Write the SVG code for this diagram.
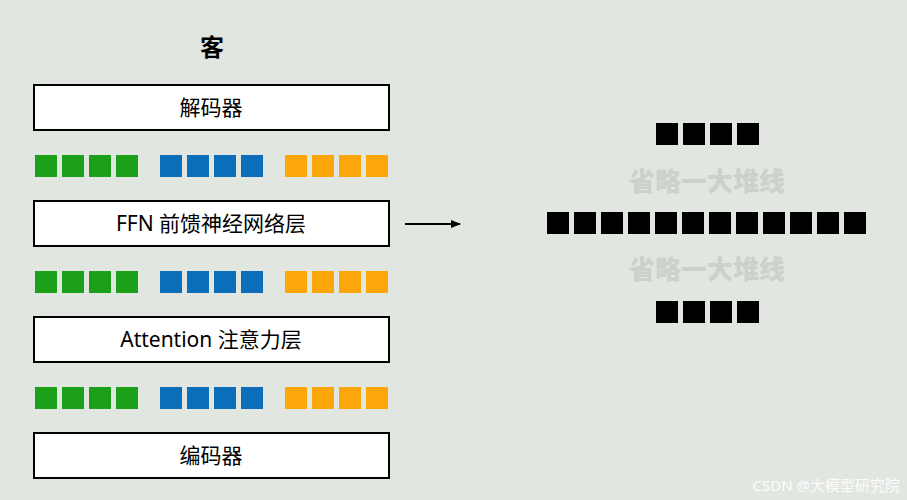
<svg xmlns="http://www.w3.org/2000/svg" width="907" height="500" viewBox="0 0 907 500">
<defs>
<style>
.box{fill:#fff;stroke:#000;stroke-width:2}
.lbl{font-family:"Noto Sans","Noto Sans CJK SC",sans-serif;font-size:21px;fill:#000;text-anchor:middle;dominant-baseline:central}
.g{fill:#1ca01c}.b{fill:#0a6fb8}.o{fill:#fda60c}.k{fill:#000}
.gray{font-family:"Noto Sans CJK SC",sans-serif;font-weight:900;font-size:26px;fill:#cdd1cc;text-anchor:middle;dominant-baseline:central}
</style>
<g id="sq"><rect width="22" height="22"/></g>
<marker id="ah" markerWidth="10" markerHeight="8" refX="9" refY="4" orient="auto" markerUnits="userSpaceOnUse"><path d="M0,0L10,4L0,8z" fill="#000"/></marker>
</defs>
<rect width="907" height="500" fill="#e2e6e1"/>
<text x="212" y="46" class="lbl" style="font-weight:bold;font-size:24px">客</text>
<g id="decoder"><rect class="box" x="34" y="85" width="355" height="45"/><text class="lbl" x="211" y="107">解码器</text></g>
<g id="ffn"><rect class="box" x="34" y="201" width="355" height="45"/><text class="lbl" x="211" y="223">FFN 前馈神经网络层</text></g>
<g id="attn"><rect class="box" x="34" y="317" width="355" height="45"/><text class="lbl" x="211" y="339">Attention 注意力层</text></g>
<g id="encoder"><rect class="box" x="34" y="433" width="355" height="45"/><text class="lbl" x="211" y="455">编码器</text></g>
<g id="tokens1">
<use href="#sq" x="35" y="155" class="g"/><use href="#sq" x="62" y="155" class="g"/><use href="#sq" x="89" y="155" class="g"/><use href="#sq" x="116" y="155" class="g"/>
<use href="#sq" x="160" y="155" class="b"/><use href="#sq" x="187" y="155" class="b"/><use href="#sq" x="214" y="155" class="b"/><use href="#sq" x="241" y="155" class="b"/>
<use href="#sq" x="285" y="155" class="o"/><use href="#sq" x="312" y="155" class="o"/><use href="#sq" x="339" y="155" class="o"/><use href="#sq" x="366" y="155" class="o"/>
</g>
<g id="tokens2">
<use href="#sq" x="35" y="271" class="g"/><use href="#sq" x="62" y="271" class="g"/><use href="#sq" x="89" y="271" class="g"/><use href="#sq" x="116" y="271" class="g"/>
<use href="#sq" x="160" y="271" class="b"/><use href="#sq" x="187" y="271" class="b"/><use href="#sq" x="214" y="271" class="b"/><use href="#sq" x="241" y="271" class="b"/>
<use href="#sq" x="285" y="271" class="o"/><use href="#sq" x="312" y="271" class="o"/><use href="#sq" x="339" y="271" class="o"/><use href="#sq" x="366" y="271" class="o"/>
</g>
<g id="tokens3">
<use href="#sq" x="35" y="387" class="g"/><use href="#sq" x="62" y="387" class="g"/><use href="#sq" x="89" y="387" class="g"/><use href="#sq" x="116" y="387" class="g"/>
<use href="#sq" x="160" y="387" class="b"/><use href="#sq" x="187" y="387" class="b"/><use href="#sq" x="214" y="387" class="b"/><use href="#sq" x="241" y="387" class="b"/>
<use href="#sq" x="285" y="387" class="o"/><use href="#sq" x="312" y="387" class="o"/><use href="#sq" x="339" y="387" class="o"/><use href="#sq" x="366" y="387" class="o"/>
</g>
<g id="connectors"><line x1="405" y1="224" x2="460" y2="224" stroke="#000" stroke-width="2" marker-end="url(#ah)"/></g>
<g id="right">
<use href="#sq" x="656" y="123" class="k"/><use href="#sq" x="683" y="123" class="k"/><use href="#sq" x="710" y="123" class="k"/><use href="#sq" x="737" y="123" class="k"/>
<text class="gray" x="707" y="179">省略一大堆线</text>
<use href="#sq" x="547" y="212" class="k"/><use href="#sq" x="574" y="212" class="k"/><use href="#sq" x="601" y="212" class="k"/><use href="#sq" x="628" y="212" class="k"/><use href="#sq" x="655" y="212" class="k"/><use href="#sq" x="682" y="212" class="k"/><use href="#sq" x="709" y="212" class="k"/><use href="#sq" x="736" y="212" class="k"/><use href="#sq" x="763" y="212" class="k"/><use href="#sq" x="790" y="212" class="k"/><use href="#sq" x="817" y="212" class="k"/><use href="#sq" x="844" y="212" class="k"/>
<text class="gray" x="707" y="267">省略一大堆线</text>
<use href="#sq" x="656" y="301" class="k"/><use href="#sq" x="683" y="301" class="k"/><use href="#sq" x="710" y="301" class="k"/><use href="#sq" x="737" y="301" class="k"/>
</g>
<text x="900" y="491" text-anchor="end" font-family="'Noto Sans','Noto Sans CJK SC',sans-serif" font-size="15" fill="#ffffff" fill-opacity="0.9">CSDN @大模型研究院</text>
</svg>
